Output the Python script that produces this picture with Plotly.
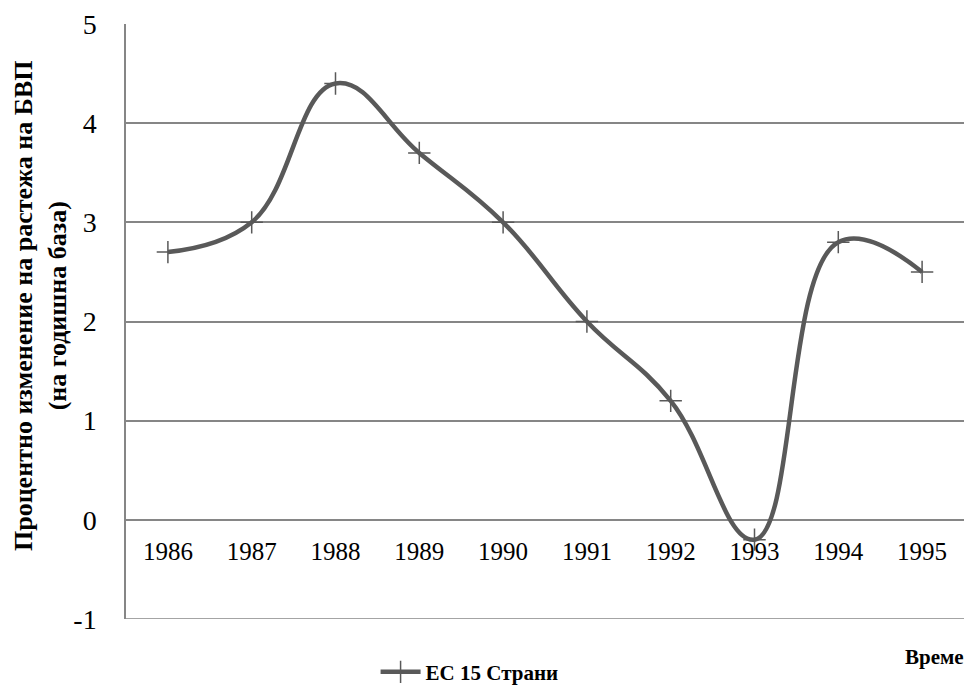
import plotly.graph_objects as go

years = ["1986", "1987", "1988", "1989", "1990", "1991", "1992", "1993", "1994", "1995"]
growth = [2.7, 3.0, 4.4, 3.7, 3.0, 2.0, 1.2, -0.2, 2.8, 2.5]
series_name = "ЕС 15 Страни"
y_title = "Процентно изменение на растежа на БВП<br>(на годишна база)"
x_title = "Време"
y_ticks = [-1, 0, 1, 2, 3, 4, 5]
y_tick_labels = ["-1", "0", "1", "2", "3", "4", "5"]

FONT = "Liberation Serif"
LINE = "#595959"
GRID = "#868686"

fig = go.Figure()
fig.add_trace(go.Scatter(
    x=years, y=growth, name="<b>" + series_name + "</b>", mode="lines+markers",
    line=dict(color=LINE, width=4.5, shape="spline", smoothing=1.2),
    marker=dict(symbol="cross-thin", size=16, line=dict(color=LINE, width=1.5), color=LINE),
))

fig.update_layout(
    width=966, height=679,
    margin=dict(l=118, r=10, t=16, b=68, autoexpand=False),
    paper_bgcolor="white", plot_bgcolor="white",
    font=dict(family=FONT, color="black"),
    showlegend=True,
    legend=dict(orientation="h", x=0.41, y=-0.055, xanchor="center", yanchor="top",
                font=dict(size=21, family=FONT), itemwidth=40),
    xaxis=dict(type="category", anchor="free", position=1/6, showgrid=False,
               showline=False, ticks="", tickfont=dict(size=25, family=FONT),
               ticklabelstandoff=14,
               range=[-0.5, 9.5], zeroline=False, automargin=False),
    yaxis=dict(range=[-1, 5], tickvals=y_ticks, ticktext=y_tick_labels, showgrid=True,
               gridcolor=GRID, gridwidth=1.5,
               zeroline=False, showline=True, linecolor=GRID, linewidth=1.5,
               ticks="", tickfont=dict(size=28, family=FONT), ticklabelstandoff=22,
               automargin=False),
)
# bottom border at -1
fig.add_shape(type="line", xref="paper", yref="y", x0=0, x1=1, y0=-1, y1=-1,
              line=dict(color=GRID, width=1.5))
fig.add_annotation(text="<b>" + y_title + "</b>", textangle=-90, xref="paper", yref="paper",
                   x=-0.1026, y=0.526, xanchor="center", yanchor="middle", showarrow=False,
                   font=dict(size=26, family=FONT))
fig.add_annotation(text="<b>" + x_title + "</b>", xref="paper", yref="paper", x=1.002, y=-0.04,
                   xanchor="right", yanchor="top", showarrow=False,
                   font=dict(size=21, family=FONT))

fig.write_html("out.html")
